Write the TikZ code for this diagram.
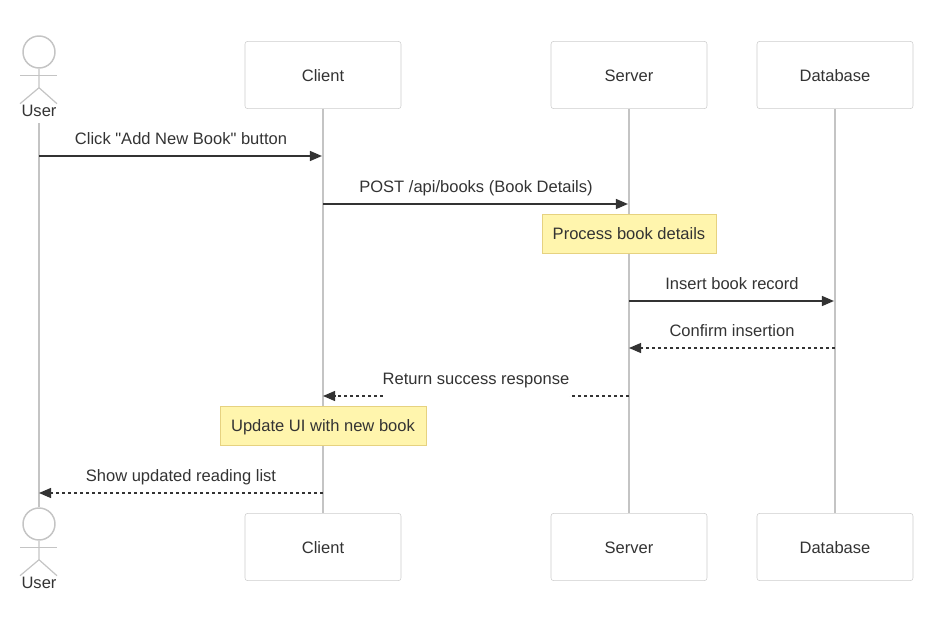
\documentclass[tikz,border=0pt]{standalone}
\usepackage{fontspec}
\setmainfont[Ligatures=TeXOff]{Liberation Sans}
\usetikzlibrary{arrows.meta}
\definecolor{ink}{HTML}{333333}
\definecolor{lifegray}{HTML}{C4C4C4}
\definecolor{boxgray}{HTML}{CCCCCC}
\definecolor{notefill}{HTML}{FFF5AD}
\definecolor{notedraw}{HTML}{E6D280}
\begin{document}
\begin{tikzpicture}[x=0.75pt, y=-0.75pt, every node/.style={font=\fontsize{12.4}{15}\selectfont}]
		\tikzstyle{box}=[
		draw=boxgray,
		fill=white,
		rectangle,
		rounded corners=2pt,
		text=ink,
		text height=11pt,
		text depth=2pt,
		minimum width=117pt,
		minimum height=50.5pt]
		\tikzstyle{note}=[
		draw=notedraw,
		fill=notefill,
		rectangle,
		text=ink,
		text height=11pt,
		text depth=2pt,
		inner sep=0pt,
		minimum height=29.5pt]
		\tikzstyle{head}=[
		draw=lifegray,
		fill=white,
		circle,
		inner sep=0pt,
		line width=1.1pt,
		minimum size=24pt]
		\tikzstyle{limb}=[draw=lifegray, line width=0.9pt]
		\tikzstyle{life}=[draw=lifegray, line width=1.1pt]
		\tikzstyle{msg}=[draw=ink, line width=1pt, -{Triangle[length=9pt,width=7.5pt]}, shorten >=0.8pt]
		\tikzstyle{reply}=[msg, line width=0.85pt, dash pattern=on 2.25pt off 2.25pt, shorten >=0pt]
		\tikzstyle{lbl}=[anchor=base, yshift=8.3pt, inner sep=0pt, text=ink]
		\tikzstyle{lbl_gap}=[lbl, fill=white, text height=11pt, text depth=10.5pt]
		\useasboundingbox (0,0) rectangle (936,636);
		\node[box] at (323,75) (Client) {Client};
		\node[box, right of=Client, node distance=229.5pt] (Server) {Server};
		\node[box, right of=Server, node distance=154.5pt] (Database) {Database};
		\node[box, below of=Client, node distance=354pt] (Client_B) {Client};
		\node[box, below of=Server, node distance=354pt] (Server_B) {Server};
		\node[box, below of=Database, node distance=354pt] (Database_B) {Database};
		\node[head] at (39,52) (User_H) {};
		\node[head, below of=User_H, node distance=354pt] (User_BH) {};
		\node[below of=User_H, node distance=44.5pt, text=ink, inner sep=4.5pt] (User) {User};
		\node[below of=User, node distance=354pt, text=ink, inner sep=0pt] (User_B) {User};
		%
		\foreach \actor in {User_H, User_BH} {
			\draw[limb] (\actor.south) -- ++(0,19) -- ++(-19,16);
			\draw[limb] (\actor.south) ++(0,19) -- ++(18,16);
			\draw[limb] (\actor.south) ++(-19,7) -- ++(37,0);
		}
		%
		\path[life] (User.south) -- (User_BH.north);
		\path[life] (Client.south) -- (Client_B.north);
		\path[life] (Server.south) -- (Server_B.north);
		\path[life] (Database.south) -- (Database_B.north);
		%
		\node[note, below of=Server, node distance=118.9pt, minimum width=130.5pt] (Note_S) {Process book details};
		\node[note, below of=Client, node distance=262.9pt, minimum width=154.5pt] (Note_C) {Update UI with new book};
		%
		\coordinate (U_1) at (User |- 0,156);
		\coordinate (C_1) at (Client |- 0,156);
		\coordinate (C_2) at (Client |- 0,204);
		\coordinate (S_2) at (Server |- 0,204);
		\coordinate (S_3) at (Server |- 0,301);
		\coordinate (D_3) at (Database |- 0,301);
		\coordinate (D_4) at (Database |- 0,348);
		\coordinate (S_4) at (Server |- 0,348);
		\coordinate (S_5) at (Server |- 0,396);
		\coordinate (C_5) at (Client |- 0,396);
		\coordinate (C_6) at (Client |- 0,493);
		\coordinate (U_6) at (User |- 0,493);
		%
		\draw[msg] (U_1) -- node[lbl] {Click "Add New Book" button} (C_1);
		\draw[msg] (C_2) -- node[lbl] {POST /api/books (Book Details)} (S_2);
		\draw[msg] (S_3) -- node[lbl] {Insert book record} (D_3);
		\draw[reply] (D_4) -- node[lbl] {Confirm insertion} (S_4);
		\draw[reply] (S_5) -- node[lbl_gap] {Return success response} (C_5);
		\draw[reply] (C_6) -- node[lbl] {Show updated reading list} (U_6);
	\end{tikzpicture}
\end{document}
